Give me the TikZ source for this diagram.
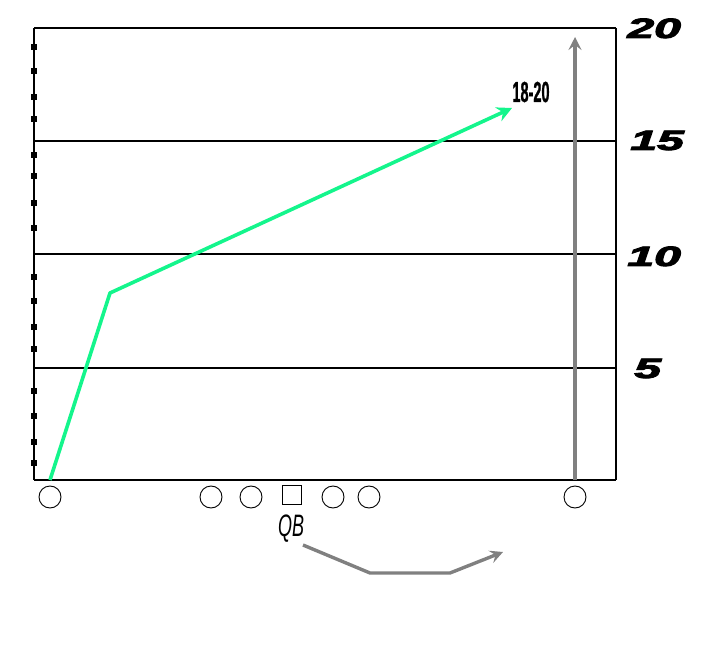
\documentclass[tikz,border=0pt]{standalone}
\usepackage{fontspec}
\setmainfont{Liberation Sans}
\newfontfamily\ydfont[BoldItalicFeatures={FakeBold=3}]{Liberation Sans}
\newfontfamily\lblfont[BoldFeatures={FakeBold=1.5}]{Liberation Sans}
\usetikzlibrary{arrows.meta}
\definecolor{routegreen}{RGB}{20,245,140}
\definecolor{routegray}{RGB}{128,128,128}
\begin{document}
\begin{tikzpicture}[x=1pt,y=-1pt,
  player/.style={draw=black,line width=0.9pt,circle,minimum size=22pt,inner sep=0pt},
  center/.style={draw=black,line width=0.9pt,rectangle,minimum size=19pt,inner sep=0pt},
  yardline/.style={line width=1.8pt,black},
  tickmark/.style={fill=black,minimum size=5.5pt,inner sep=0pt,rectangle},
  ydnum/.style={font=\ydfont\bfseries\itshape\fontsize{28}{28}\selectfont,xscale=1.72,inner sep=0pt,anchor=base west},
  greenroute/.style={line width=3.6pt,routegreen,-{Stealth[length=15pt,width=15pt,inset=5pt]}},
  grayroute/.style={line width=3.4pt,routegray,-{Stealth[length=13pt,width=13pt,inset=5pt]}}]
\useasboundingbox (0,0) rectangle (728,660);
% field
\draw[yardline,line width=2.6pt] (34,28) -- (616,28);
\draw[yardline] (34,141) -- (616,141);
\draw[yardline] (34,254) -- (616,254);
\draw[yardline] (34,368) -- (616,368);
\draw[yardline] (34,480) -- (616,480);
\draw[yardline] (34,28) -- (34,480);
\draw[yardline,line width=1.4pt] (616,28) -- (616,480);
% tick marks
\foreach \ty [count=\i] in {47,71,97,119,155,176,203,228,277,301,327,349,391,416,442,463}
  \node[tickmark] (t\i) at (34,\ty) {};
% yard numbers
\node[ydnum] (n20) at (627,38) {20};
\node[ydnum] (n15) at (630,150) {15};
\node[ydnum] (n10) at (627,266) {10};
\node[ydnum] (n5) at (634,378) {5};
% players
\node[player] (p1) at (50,497) {};
\node[player] (p2) at (211,497) {};
\node[player] (p3) at (251,497) {};
\node[center] (qbc) at (292,495) {};
\node[player] (p4) at (333,497) {};
\node[player] (p5) at (369,497) {};
\node[player] (p6) at (575,497) {};
% labels
\node[font=\itshape\fontsize{31}{31}\selectfont,xscale=0.58,inner sep=0pt] (qb) at (291,529) {QB};
\node[font=\lblfont\bfseries\fontsize{29}{29}\selectfont,xscale=0.5,inner sep=0pt] (lbl) at (531,92) {18-20};
% routes
\coordinate (gs) at (50,480);
\coordinate (gb) at (110,293);
\coordinate (ge) at (512,108);
\draw[greenroute,line join=round] (gs) -- (gb) -- (ge);
\coordinate (vs) at (575,480);
\coordinate (ve) at (575,37);
\draw[grayroute] (vs) -- (ve);
\coordinate (qs) at (303,545);
\coordinate (q1) at (370,573);
\coordinate (q2) at (450,573);
\coordinate (qe) at (503,552);
\draw[grayroute] (qs) -- (q1) -- (q2) -- (qe);
\end{tikzpicture}
\end{document}
